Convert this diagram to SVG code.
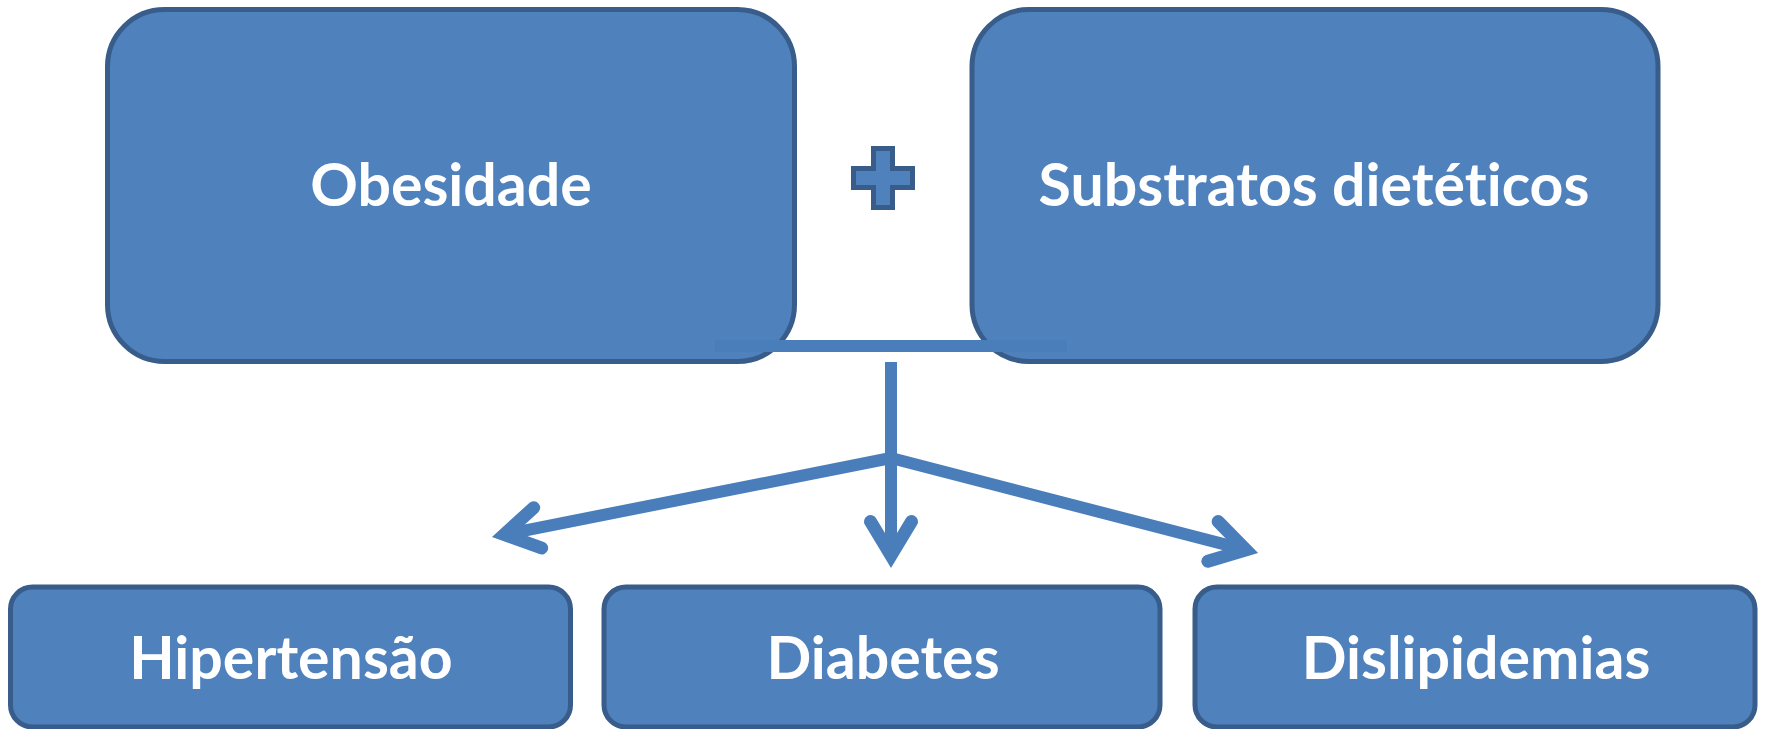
<svg xmlns="http://www.w3.org/2000/svg" width="1766" height="729" viewBox="0 0 1766 729">
<style>
.box{fill:#4F81BD;stroke:#385D8A;stroke-width:5}
.lbl{font-family:Lato,"Open Sans","Liberation Sans",sans-serif;font-weight:700;font-size:59px;fill:#FFFFFF;text-anchor:middle;font-variant-ligatures:none;font-feature-settings:"liga" 0,"dlig" 0}
.con{stroke:#4A7EBB;stroke-width:12;fill:none}
</style>
<defs>
<marker id="ah" markerUnits="userSpaceOnUse" viewBox="-60 -35 70 70" markerWidth="70" markerHeight="70" refX="-12.5" refY="0" orient="auto" overflow="visible">
<path d="M-46.5,-20.5 L-12.5,0 L-46.5,20.5" fill="none" stroke="#4A7EBB" stroke-width="13" stroke-linecap="round" stroke-linejoin="miter" stroke-miterlimit="10"/>
</marker>
</defs>
<g id="obesidade">
<rect class="box" x="107.5" y="9.5" width="687" height="352" rx="57"/>
<text class="lbl" x="451" y="206">Obesidade</text>
</g>
<g id="substratos">
<rect class="box" x="972" y="9.5" width="686" height="352" rx="57"/>
<text class="lbl" x="1314" y="206">Substratos dietéticos</text>
</g>
<g id="plus">
<path d="M873.5,148.5 H892.5 V168.5 H912.5 V187.5 H892.5 V207.5 H873.5 V187.5 H853.5 V168.5 H873.5 Z" fill="#4F81BD" stroke="#385D8A" stroke-width="5"/>
</g>
<g id="connectors">
<rect x="715" y="340" width="352" height="12" fill="#4A7EBB"/>
<line class="con" x1="891" y1="362" x2="891" y2="555.5" marker-end="url(#ah)"/>
<line class="con" x1="891" y1="458" x2="504.3" y2="534.5" marker-end="url(#ah)"/>
<line class="con" x1="891" y1="458" x2="1245.9" y2="549.9" marker-end="url(#ah)"/>
</g>
<g id="hipertensao">
<rect class="box" x="10.5" y="587" width="560" height="140" rx="22"/>
<text class="lbl" x="291" y="679">Hipertensão</text>
</g>
<g id="diabetes">
<rect class="box" x="604" y="587" width="556" height="140" rx="22"/>
<text class="lbl" x="883" y="679">Diabetes</text>
</g>
<g id="dislipidemias">
<rect class="box" x="1195" y="587" width="560" height="140" rx="22"/>
<text class="lbl" x="1476" y="679">Dislipidemias</text>
</g>
</svg>
